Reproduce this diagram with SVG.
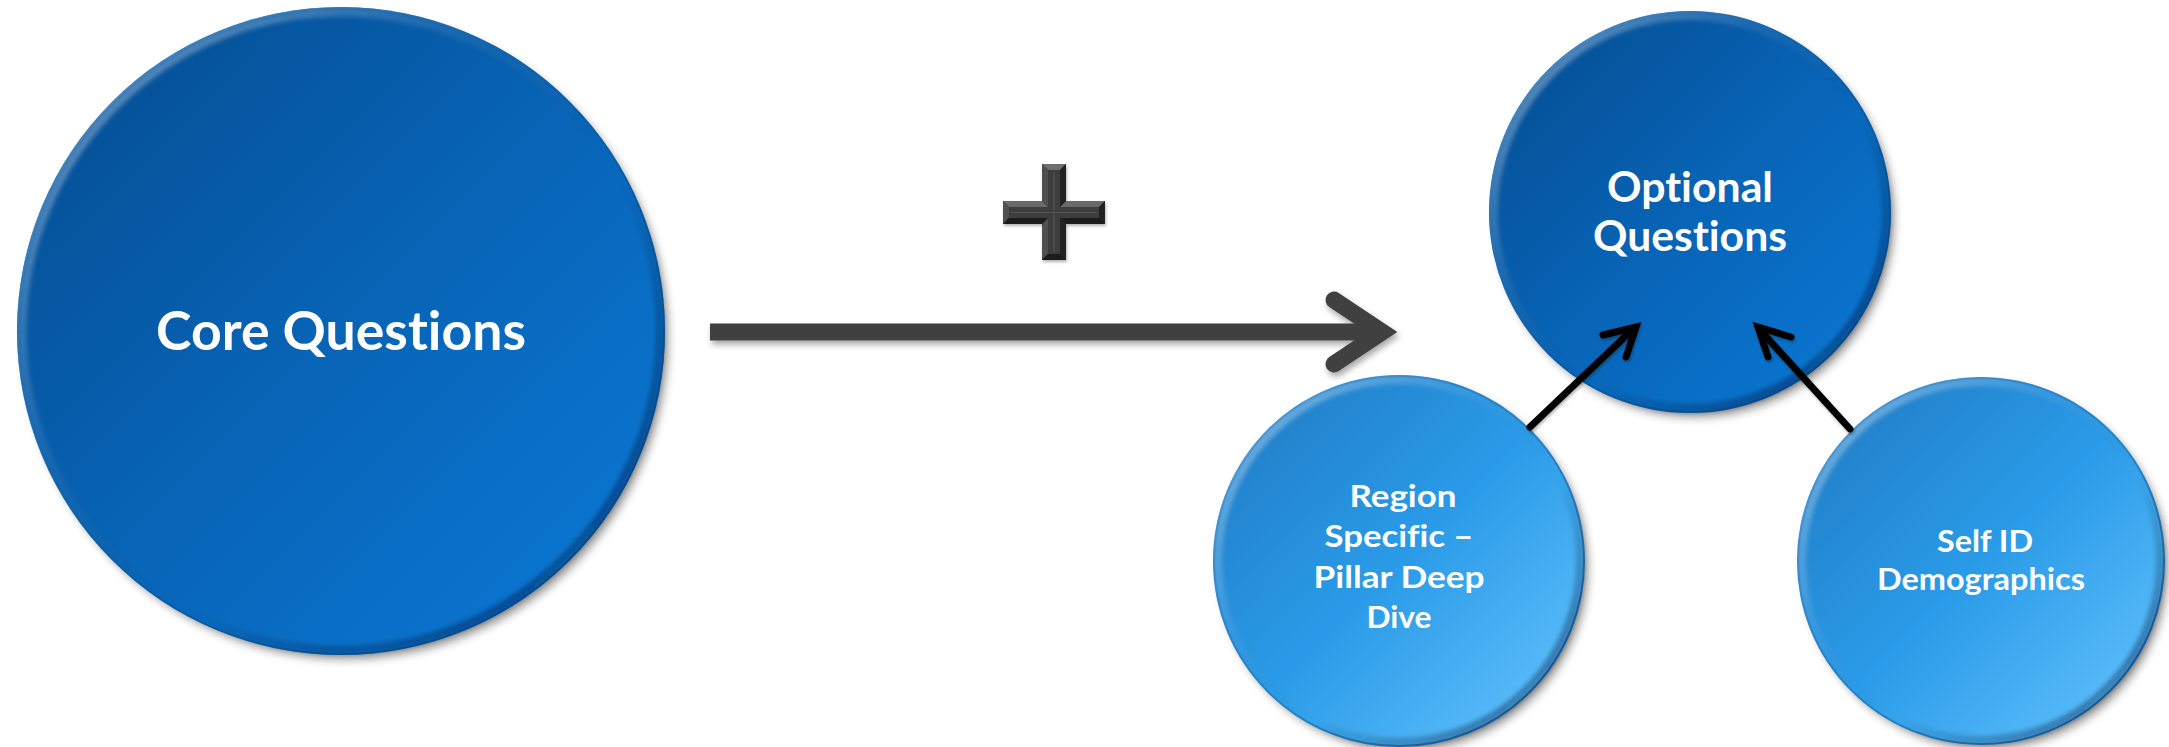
<svg xmlns="http://www.w3.org/2000/svg" width="2169" height="747" viewBox="0 0 2169 747">
  <defs>
    <style>
      .label { font-family: "Lato", "Liberation Sans", sans-serif; font-weight: 700; fill: #ffffff; text-anchor: middle; font-variant-ligatures: none; font-feature-settings: "liga" 0, "clig" 0; }
      .rim { fill: none; stroke: url(#rimGrad); stroke-width: 9; filter: url(#soft); }
      .edge { fill: none; stroke: url(#edgeGrad); stroke-width: 2; }
      .drop { fill: #000; opacity: 0.42; filter: url(#blur6); }
      .pointer { fill: none; stroke: #000; stroke-width: 7; stroke-linecap: round; stroke-linejoin: miter; }
    </style>
    <!-- deep blue fill -->
    <linearGradient id="darkFill" x1="0" y1="0" x2="1" y2="1">
      <stop offset="0" stop-color="#044a8e"/>
      <stop offset="0.5" stop-color="#0864b6"/>
      <stop offset="1" stop-color="#0a7ad8"/>
    </linearGradient>
    <!-- light blue fill -->
    <linearGradient id="lightFill" x1="0" y1="0" x2="1" y2="1">
      <stop offset="0" stop-color="#1f78c0"/>
      <stop offset="0.5" stop-color="#2a9be8"/>
      <stop offset="1" stop-color="#68c6ff"/>
    </linearGradient>
    <!-- bevel rim: highlight top-left, shade bottom-right -->
    <linearGradient id="rimGrad" x1="0" y1="0" x2="1" y2="1">
      <stop offset="0" stop-color="#ffffff" stop-opacity="0.45"/>
      <stop offset="0.35" stop-color="#ffffff" stop-opacity="0.08"/>
      <stop offset="0.6" stop-color="#000000" stop-opacity="0"/>
      <stop offset="1" stop-color="#001a40" stop-opacity="0.55"/>
    </linearGradient>
    <linearGradient id="edgeGrad" x1="0" y1="0" x2="1" y2="1">
      <stop offset="0" stop-color="#5fb0ee" stop-opacity="0.7"/>
      <stop offset="0.5" stop-color="#0a4f90" stop-opacity="0.3"/>
      <stop offset="1" stop-color="#033a70" stop-opacity="0.9"/>
    </linearGradient>
    <filter id="soft" x="-10%" y="-10%" width="120%" height="120%">
      <feGaussianBlur stdDeviation="2"/>
    </filter>
    <filter id="blur6" x="-10%" y="-10%" width="120%" height="120%">
      <feGaussianBlur stdDeviation="5"/>
    </filter>
    <filter id="lineShadow" x="-5%" y="-50%" width="110%" height="200%">
      <feDropShadow dx="2" dy="4" stdDeviation="3" flood-color="#000" flood-opacity="0.35"/>
    </filter>
    <filter id="plusShadow" x="-20%" y="-20%" width="140%" height="140%">
      <feDropShadow dx="1" dy="2" stdDeviation="1.5" flood-color="#000" flood-opacity="0.3"/>
    </filter>
  </defs>

  <rect width="2169" height="747" fill="#ffffff"/>

  <!-- Core Questions -->
  <g id="core">
    <circle class="drop" cx="346" cy="337" r="322"/>
    <circle cx="341" cy="331" r="324" fill="url(#darkFill)"/>
    <circle class="rim" cx="341" cy="331" r="319"/>
    <circle class="edge" cx="341" cy="331" r="323"/>
    <text class="label" x="341" y="350" font-size="53" textLength="370" lengthAdjust="spacingAndGlyphs">Core Questions</text>
  </g>

  <!-- Plus sign -->
  <g id="plus" filter="url(#plusShadow)">
    <polygon points="1042,164 1066,164 1066,201 1105,201 1105,224 1066,224 1066,260 1042,260 1042,224 1003,224 1003,201 1042,201" fill="#2e2e2e"/>
    <!-- upward faces -->
    <polygon points="1042,164 1066,164 1060,170 1048,170" fill="#6e6e6e"/>
    <polygon points="1066,201 1105,201 1099,207 1060,207" fill="#6a6a6a"/>
    <polygon points="1003,201 1042,201 1048,207 1009,207" fill="#6a6a6a"/>
    <!-- left faces -->
    <polygon points="1042,201 1042,164 1048,170 1048,207" fill="#505050"/>
    <polygon points="1003,224 1003,201 1009,207 1009,218" fill="#505050"/>
    <polygon points="1042,260 1042,224 1048,218 1048,254" fill="#505050"/>
    <!-- right faces -->
    <polygon points="1066,164 1066,201 1060,207 1060,170" fill="#222222"/>
    <polygon points="1105,201 1105,224 1099,218 1099,207" fill="#222222"/>
    <polygon points="1066,224 1066,260 1060,254 1060,218" fill="#222222"/>
    <!-- downward faces -->
    <polygon points="1105,224 1066,224 1060,218 1099,218" fill="#1a1a1a"/>
    <polygon points="1066,260 1042,260 1048,254 1060,254" fill="#1a1a1a"/>
    <polygon points="1042,224 1003,224 1009,218 1048,218" fill="#1a1a1a"/>
    <!-- top face with ridge -->
    <polygon points="1048,170 1060,170 1060,207 1099,207 1099,218 1060,218 1060,254 1048,254 1048,218 1009,218 1009,207 1048,207" fill="#3c3c3c"/>
    <path d="M1054,172 V252 M1011,212.5 H1097" stroke="#555" stroke-width="1.2"/>
  </g>

  <!-- Optional Questions -->
  <g id="optional">
    <circle class="drop" cx="1695" cy="218" r="199"/>
    <circle cx="1690" cy="212" r="201" fill="url(#darkFill)"/>
    <circle class="rim" cx="1690" cy="212" r="196.5"/>
    <circle class="edge" cx="1690" cy="212" r="200"/>
    <text class="label" x="1690" y="202" font-size="42" textLength="166" lengthAdjust="spacingAndGlyphs">Optional</text>
    <text class="label" x="1690" y="251" font-size="42" textLength="194" lengthAdjust="spacingAndGlyphs">Questions</text>
  </g>

  <!-- Region Specific - Pillar Deep Dive -->
  <g id="region">
    <circle class="drop" cx="1404" cy="567" r="184"/>
    <circle cx="1399" cy="561" r="186" fill="url(#lightFill)"/>
    <circle class="rim" cx="1399" cy="561" r="181.5"/>
    <circle class="edge" cx="1399" cy="561" r="185"/>
    <text class="label" x="1403" y="507" font-size="30" textLength="107" lengthAdjust="spacingAndGlyphs">Region</text>
    <text class="label" x="1399" y="547" font-size="30" textLength="149" lengthAdjust="spacingAndGlyphs">Specific –</text>
    <text class="label" x="1399" y="588" font-size="30" textLength="171" lengthAdjust="spacingAndGlyphs">Pillar Deep</text>
    <text class="label" x="1399" y="628" font-size="30" textLength="65" lengthAdjust="spacingAndGlyphs">Dive</text>
  </g>

  <!-- Self ID Demographics -->
  <g id="selfid">
    <circle class="drop" cx="1986" cy="567" r="182"/>
    <circle cx="1981" cy="561" r="184" fill="url(#lightFill)"/>
    <circle class="rim" cx="1981" cy="561" r="179.5"/>
    <circle class="edge" cx="1981" cy="561" r="183"/>
    <text class="label" x="1985" y="552" font-size="30" textLength="96" lengthAdjust="spacingAndGlyphs">Self ID</text>
    <text class="label" x="1981" y="590" font-size="30" textLength="208" lengthAdjust="spacingAndGlyphs">Demographics</text>
  </g>

  <!-- Connectors -->
  <g id="connectors">
    <g filter="url(#lineShadow)" stroke="#404040" fill="none" stroke-width="17">
      <line x1="710" y1="332" x2="1380" y2="332"/>
      <polyline points="1334,300 1382,332 1334,364" stroke-linecap="round" stroke-linejoin="miter"/>
    </g>
    <g filter="url(#plusShadow)">
      <line class="pointer" x1="1530" y1="427" x2="1633" y2="329" stroke-linecap="butt"/>
      <polyline class="pointer" points="1603,335 1636,327 1626,357"/>
      <line class="pointer" x1="1850" y1="429" x2="1761" y2="331" stroke-linecap="butt"/>
      <polyline class="pointer" points="1791,337 1758,327 1768,357"/>
    </g>
  </g>
</svg>
